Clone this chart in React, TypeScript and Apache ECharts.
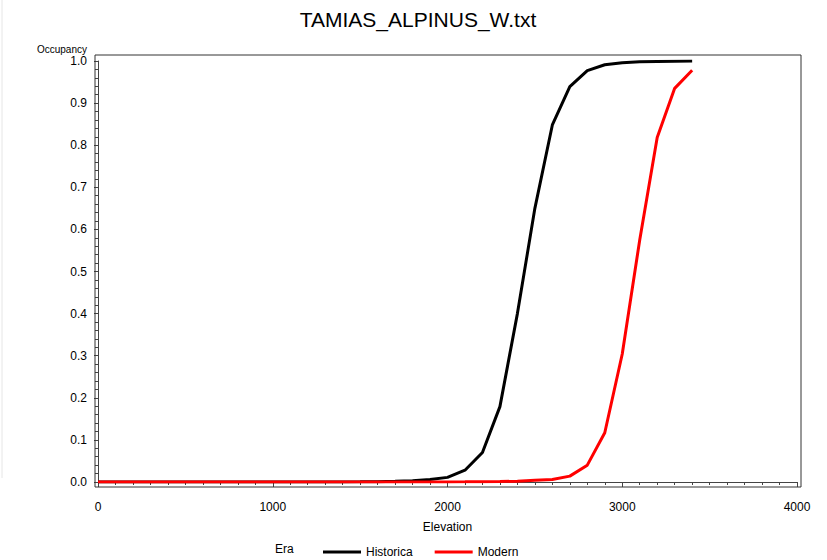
import React, { useEffect, useRef } from "react";
import * as echarts from "echarts";

const TITLE = "TAMIAS_ALPINUS_W.txt";
const X_NAME = "Elevation";
const Y_NAME = "Occupancy";
const LEGEND_TITLE = "Era";
const SERIES_NAMES = ["Historica", "Modern"];

const elevation = [
  0, 100, 200, 300, 400, 500, 600, 700, 800, 900, 1000, 1100, 1200, 1300, 1400,
  1500, 1600, 1700, 1800, 1900, 2000, 2100, 2200, 2300, 2400, 2500, 2600, 2700,
  2800, 2900, 3000, 3100, 3200, 3300, 3400,
];

const historical = [
  0, 0, 0, 0, 0, 0, 0, 0, 0, 0, 0, 0, 0, 0, 0.0002,
  0.0004, 0.0008, 0.0015, 0.003, 0.006, 0.011, 0.028, 0.07, 0.179, 0.4, 0.65,
  0.848, 0.939, 0.977, 0.991, 0.996, 0.998, 0.999, 0.9995, 1.0,
];

const modern = [
  0, 0, 0, 0, 0, 0, 0, 0, 0, 0, 0, 0, 0, 0, 0,
  0, 0, 0, 0, 0, 0.0002, 0.0004, 0.0007, 0.001, 0.002, 0.004, 0.006, 0.014,
  0.04, 0.117, 0.304, 0.575, 0.818, 0.935, 0.978,
];

const FONT = "'Liberation Sans', Arial, Helvetica, sans-serif";

export default function App() {
  const ref = useRef<HTMLDivElement>(null);

  useEffect(() => {
    if (!ref.current) return;
    const chart = echarts.init(ref.current, undefined, { renderer: "svg" });
    const toPairs = (vals: number[]) => elevation.map((x, i) => [x, vals[i]]);
    chart.setOption({
      animation: false,
      backgroundColor: "#ffffff",
      textStyle: { fontFamily: FONT },
      title: {
        text: TITLE,
        left: 413,
        top: 4,
        textAlign: "center",
        textStyle: { fontFamily: FONT, fontSize: 21, fontWeight: "normal", color: "#000" },
      },
      grid: { left: 98, top: 61, width: 699, height: 421, containLabel: false },
      legend: {
        left: 318,
        top: 541,
        itemWidth: 38,
        itemHeight: 3,
        itemGap: 22,
        icon: "rect",
        data: SERIES_NAMES,
        textStyle: { fontFamily: FONT, fontSize: 12, color: "#000" },
      },
      xAxis: {
        type: "value",
        min: 0,
        max: 4000,
        interval: 1000,
        offset: 5,
        name: X_NAME,
        nameLocation: "middle",
        nameGap: 34,
        nameTextStyle: { fontFamily: FONT, fontSize: 12, color: "#000" },
        axisLine: { show: true, lineStyle: { color: "#444", width: 1 } },
        axisTick: { show: true, length: 5, lineStyle: { color: "#444" } },
        minorTick: { show: true, splitNumber: 10, length: 3, lineStyle: { color: "#444" } },
        splitLine: { show: false },
        axisLabel: {
          margin: 14,
          fontFamily: FONT,
          fontSize: 12,
          color: "#000",
          formatter: (v: number) => String(v),
        },
      },
      yAxis: {
        type: "value",
        min: 0,
        max: 1,
        interval: 0.1,
        offset: 3,
        axisLine: { show: true, lineStyle: { color: "#444", width: 1 } },
        axisTick: { show: true, length: 4, lineStyle: { color: "#444" } },
        minorTick: { show: true, splitNumber: 5, length: 3, lineStyle: { color: "#444" } },
        splitLine: { show: false },
        axisLabel: {
          margin: 8,
          fontFamily: FONT,
          fontSize: 12,
          color: "#000",
          formatter: (v: number) => v.toFixed(1),
        },
      },
      graphic: [
        {
          type: "rect",
          shape: { x: 95, y: 55, width: 706, height: 432 },
          style: { fill: "none", stroke: "#333", lineWidth: 1 },
          silent: true,
          z: 10,
        },
        {
          type: "line",
          shape: { x1: 2, y1: 0, x2: 2, y2: 478 },
          style: { stroke: "#e6e6e6", lineWidth: 1 },
          silent: true,
        },
        {
          type: "text",
          x: 87,
          y: 49,
          style: {
            text: Y_NAME,
            fontFamily: FONT,
            fontSize: 10,
            fill: "#000",
            textAlign: "right",
            textVerticalAlign: "middle",
          },
        },
        {
          type: "text",
          x: 275,
          y: 549,
          style: {
            text: LEGEND_TITLE,
            fontFamily: FONT,
            fontSize: 12,
            fill: "#000",
            textAlign: "left",
            textVerticalAlign: "middle",
          },
        },
      ],
      series: [
        {
          name: SERIES_NAMES[0],
          type: "line",
          data: toPairs(historical),
          showSymbol: false,
          color: "#000000",
          lineStyle: { color: "#000000", width: 3 },
          z: 3,
        },
        {
          name: SERIES_NAMES[1],
          type: "line",
          data: toPairs(modern),
          showSymbol: false,
          color: "#ff0000",
          lineStyle: { color: "#ff0000", width: 3 },
          z: 4,
        },
      ],
    });
    return () => chart.dispose();
  }, []);

  return <div ref={ref} style={{ width: 827, height: 560, position: "absolute", left: 0, top: 0 }} />;
}
